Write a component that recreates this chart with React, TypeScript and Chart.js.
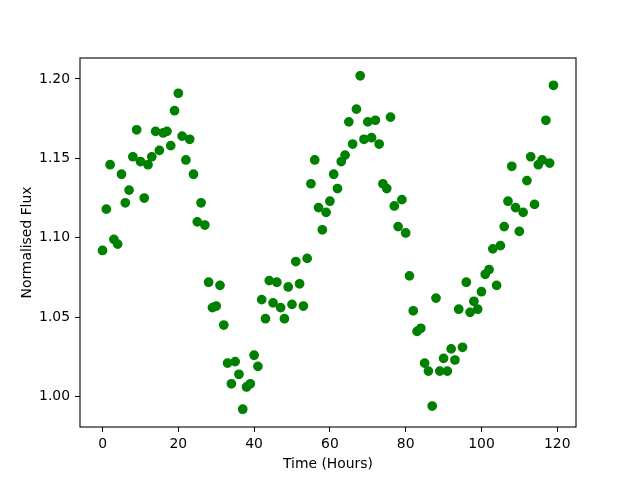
import React, { useEffect, useRef } from "react";
import { Chart, registerables } from "chart.js";

Chart.register(...registerables);

const hours = [
  0, 1, 2, 3, 4, 5, 6, 7, 8, 9, 10, 11, 12, 13, 14, 15, 16, 17, 18, 19,
  20, 21, 22, 23, 24, 25, 26, 27, 28, 29, 30, 31, 32, 33, 34, 35, 36, 37, 38, 39,
  40, 41, 42, 43, 44, 45, 46, 47, 48, 49, 50, 51, 52, 53, 54, 55, 56, 57, 58, 59,
  60, 61, 62, 63, 64, 65, 66, 67, 68, 69, 70, 71, 72, 73, 74, 75, 76, 77, 78, 79,
  80, 81, 82, 83, 84, 85, 86, 87, 88, 89, 90, 91, 92, 93, 94, 95, 96, 97, 98, 99,
  100, 101, 102, 103, 104, 105, 106, 107, 108, 109, 110, 111, 112, 113, 114, 115, 116, 117, 118, 119,
];

const flux = [
  1.092, 1.118, 1.146, 1.099, 1.096, 1.14, 1.122, 1.13, 1.151, 1.168,
  1.148, 1.125, 1.146, 1.151, 1.167, 1.155, 1.166, 1.167, 1.158, 1.18,
  1.191, 1.164, 1.149, 1.162, 1.14, 1.11, 1.122, 1.108, 1.072, 1.056,
  1.057, 1.07, 1.045, 1.021, 1.008, 1.022, 1.014, 0.992, 1.006, 1.008,
  1.026, 1.019, 1.061, 1.049, 1.073, 1.059, 1.072, 1.056, 1.049, 1.069,
  1.058, 1.085, 1.071, 1.057, 1.087, 1.134, 1.149, 1.119, 1.105, 1.116,
  1.123, 1.14, 1.131, 1.148, 1.152, 1.173, 1.159, 1.181, 1.202, 1.162,
  1.173, 1.163, 1.174, 1.159, 1.134, 1.131, 1.176, 1.12, 1.107, 1.124,
  1.103, 1.076, 1.054, 1.041, 1.043, 1.021, 1.016, 0.994, 1.062, 1.016,
  1.024, 1.016, 1.03, 1.023, 1.055, 1.031, 1.072, 1.053, 1.06, 1.055,
  1.066, 1.077, 1.08, 1.093, 1.07, 1.095, 1.107, 1.123, 1.145, 1.119,
  1.104, 1.116, 1.136, 1.151, 1.121, 1.146, 1.149, 1.174, 1.147, 1.196,
];

const xTicks = [0, 20, 40, 60, 80, 100, 120];
const yTicks = [1.0, 1.05, 1.1, 1.15, 1.2];

const xLabel = "Time (Hours)";
const yLabel = "Normalised Flux";

const FONT = "'DejaVu Sans', sans-serif";

export default function App() {
  const ref = useRef<HTMLCanvasElement | null>(null);

  useEffect(() => {
    if (!ref.current) return;
    const frame = {
      id: "frame",
      afterDatasetsDraw(chart: any) {
        const { ctx, chartArea } = chart;
        ctx.save();
        ctx.strokeStyle = "#000";
        ctx.lineWidth = 1.1;
        ctx.strokeRect(
          chartArea.left,
          chartArea.top,
          chartArea.right - chartArea.left,
          chartArea.bottom - chartArea.top
        );
        ctx.restore();
      },
    };
    const chart = new Chart(ref.current, {
      type: "scatter",
      data: {
        datasets: [
          {
            data: hours.map((h, i) => ({ x: h, y: flux[i] })),
            backgroundColor: "#008000",
            borderColor: "#008000",
            pointRadius: 4.17,
            pointBorderWidth: 1.39,
            pointHoverRadius: 4.17,
          },
        ],
      },
      options: {
        responsive: false,
        animation: false,
        events: [],
        layout: { padding: { left: 0, top: 58, right: 64, bottom: 0 } },
        plugins: { legend: { display: false }, tooltip: { enabled: false } },
        scales: {
          x: {
            type: "linear",
            min: -5.95,
            max: 124.95,
            afterFit(scale: any) {
              scale.height = 53;
            },
            afterBuildTicks(scale: any) {
              scale.ticks = xTicks.map((v) => ({ value: v }));
            },
            ticks: {
              color: "#000",
              font: { family: FONT, size: 13.9 },
              padding: 4,
              maxRotation: 0,
              callback: (v: any) => String(v),
            },
            grid: {
              drawOnChartArea: false,
              drawTicks: true,
              tickLength: 5,
              color: "#000",
              lineWidth: 1,
            },
            border: { display: false },
            title: {
              display: true,
              text: xLabel,
              color: "#000",
              font: { family: FONT, size: 13.9 },
              padding: { top: 0, bottom: 7 },
            },
          },
          y: {
            type: "linear",
            min: 0.9808,
            max: 1.2132,
            afterFit(scale: any) {
              scale.width = 80;
            },
            afterBuildTicks(scale: any) {
              scale.ticks = yTicks.map((v) => ({ value: v }));
            },
            ticks: {
              color: "#000",
              font: { family: FONT, size: 13.9 },
              padding: 5,
              callback: (v: any) => Number(v).toFixed(2),
            },
            grid: {
              drawOnChartArea: false,
              drawTicks: true,
              tickLength: 5,
              color: "#000",
              lineWidth: 1,
            },
            border: { display: false },
            title: {
              display: true,
              text: yLabel,
              color: "#000",
              font: { family: FONT, size: 13.9 },
              padding: { top: 19, bottom: 0 },
            },
          },
        },
      },
      plugins: [frame],
    });
    return () => chart.destroy();
  }, []);

  return (
    <div style={{ position: "fixed", left: 0, top: 0, width: 640, height: 480, background: "#fff" }}>
      <canvas ref={ref} width={640} height={480} />
    </div>
  );
}
